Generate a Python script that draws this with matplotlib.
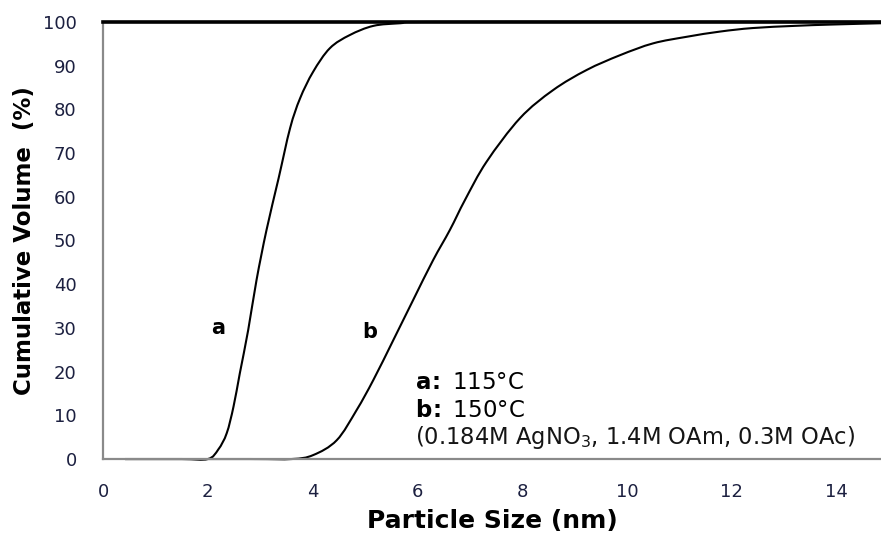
import numpy as np
from matplotlib import pyplot as plt
from matplotlib.path import Path
from matplotlib.patches import PathPatch

# curve a (115 C)
size_a = [0.42, 1.5, 2.0, 2.2, 2.36, 2.49, 2.61, 2.77, 2.93, 3.12, 3.35, 3.57,
          3.76, 4.01, 4.33, 4.71, 5.16, 5.67, 6.2, 10.0, 14.85]
vol_a = [0.0, 0.0, 0.0, 2.2, 5.9, 12.0, 19.6, 29.5, 41.0, 52.4, 64.2, 75.7,
         82.5, 88.6, 94.0, 97.0, 99.1, 99.7, 100.0, 100.0, 100.0]

# curve b (150 C)
size_b = [0.42, 2.8, 3.6, 4.01, 4.46, 4.84, 5.16, 5.54, 5.92, 6.30, 6.62, 6.91,
          7.32, 7.96, 8.59, 9.23, 9.87, 10.50, 11.14, 11.78, 12.4, 13.2, 13.9, 14.85]
vol_b = [0.0, 0.0, 0.0, 0.9, 4.3, 11.2, 18.1, 27.2, 36.4, 45.5, 52.4, 59.3,
         68.0, 78.0, 84.4, 89.0, 92.4, 95.1, 96.6, 97.8, 98.6, 99.1, 99.4, 99.7]

xticks = [0, 2, 4, 6, 8, 10, 12, 14]
yticks = [0, 10, 20, 30, 40, 50, 60, 70, 80, 90, 100]

tick_col = '#1c2040'


def smooth_path(xs, ys):
    # spreadsheet style smoothed line: cubic bezier through every point
    p = np.column_stack([xs, ys])
    n = len(p)
    verts = [p[0]]
    codes = [Path.MOVETO]
    for i in range(n - 1):
        prev = p[i - 1] if i > 0 else p[i]
        nxt = p[i + 2] if i + 2 < n else p[i + 1]
        c1 = p[i] + (p[i + 1] - prev) / 6.0
        c2 = p[i + 1] - (nxt - p[i]) / 6.0
        verts += [c1, c2, p[i + 1]]
        codes += [Path.CURVE4] * 3
    return Path(verts, codes)


fig = plt.figure(figsize=(8.81, 5.35), dpi=100)
ax = fig.add_axes([0.117, 0.142, 0.883, 0.817])

for xs, ys in [(size_a, vol_a), (size_b, vol_b)]:
    ax.add_patch(PathPatch(smooth_path(xs, ys), fill=False, edgecolor='black',
                           lw=1.5, transform=ax.transData, clip_on=False))

ax.set_xlim(0, 14.85)
ax.set_ylim(0, 100)
ax.set_xticks(xticks)
ax.set_yticks(yticks)
ax.tick_params(length=0, labelsize=13, labelcolor=tick_col)
ax.tick_params(axis='x', pad=17)
ax.tick_params(axis='y', pad=19)

for s in ['left', 'bottom']:
    ax.spines[s].set_color('#8a8a8a')
    ax.spines[s].set_linewidth(1.6)
ax.spines['right'].set_visible(False)
ax.spines['top'].set_color('black')
ax.spines['top'].set_linewidth(2.6)
for sp in ax.spines.values():
    sp.set_clip_on(False)
    sp.set_zorder(3)

ax.set_xlabel('Particle Size (nm)', fontsize=18, fontweight='bold', labelpad=6)
ax.set_ylabel('Cumulative Volume  (%)', fontsize=16.5, fontweight='bold', labelpad=5)

ax.text(2.19, 30, 'a', fontsize=15, fontweight='bold', ha='center', va='center')
ax.text(5.1, 29, 'b', fontsize=15, fontweight='bold', ha='center', va='center')

ax.text(5.95, 17.6, r'$\mathbf{a\!:}$ 115°C', fontsize=16.5, ha='left', va='center')
ax.text(5.95, 11.2, r'$\mathbf{b\!:}$ 150°C', fontsize=16.5, ha='left', va='center')
ax.text(5.95, 5.0, r'(0.184M AgNO$_3$, 1.4M OAm, 0.3M OAc)', fontsize=16.3,
        ha='left', va='center', color='#151515')

fig.savefig('out.png', dpi=100)
